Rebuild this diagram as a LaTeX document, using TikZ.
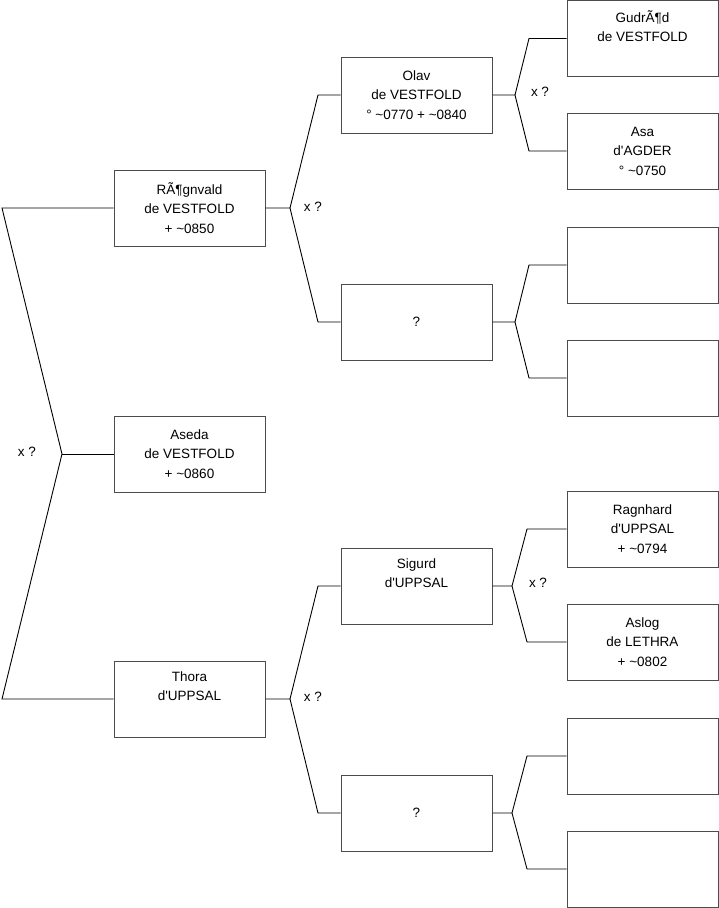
\documentclass[tikz,border=0pt]{standalone}
\usepackage{fontspec}
\newfontfamily\arialf{Liberation Sans}
\begin{document}
\begin{tikzpicture}[x=1pt,y=-1pt,
  box/.style={draw=black!70,line width=1pt,minimum width=151pt,minimum height=76pt,inner sep=0pt,align=center,font=\arialf\fontsize{13.5}{19.5}\selectfont,fill=white},
  lbl/.style={font=\arialf\fontsize{13.5}{16}\selectfont,inner sep=0pt},
  conn/.style={draw=black,line width=0.9pt}]
\useasboundingbox (0,0) rectangle (719,908);
% generation 1
\node[box] (rog) at (189.5,208) {RÃ¶gnvald\\de VESTFOLD\\+ \textasciitilde0850};
\node[box] (aseda) at (189.5,454) {Aseda\\de VESTFOLD\\+ \textasciitilde0860};
\node[box] (thora) at (189.5,699) {Thora\\d'UPPSAL\\\strut};
% generation 2
\node[box] (olav) at (416.5,95) {Olav\\de VESTFOLD\\° \textasciitilde0770 + \textasciitilde0840};
\node[box] (qa) at (416.5,322) {?};
\node[box] (sig) at (416.5,586) {Sigurd\\d'UPPSAL\\\strut};
\node[box] (qb) at (416.5,813) {?};
% generation 3
\node[box] (gud) at (642.5,38.5) {GudrÃ¶d\\de VESTFOLD\\\strut};
\node[box] (asa) at (642.5,151) {Asa\\d'AGDER\\° \textasciitilde0750};
\node[box] (ba) at (642.5,265) {};
\node[box] (bb) at (642.5,378) {};
\node[box] (rag) at (642.5,529) {Ragnhard\\d'UPPSAL\\+ \textasciitilde0794};
\node[box] (aslog) at (642.5,642) {Aslog\\de LETHRA\\+ \textasciitilde0802};
\node[box] (bc) at (642.5,756) {};
\node[box] (bd) at (642.5,869) {};
% root fork
\coordinate (r1) at (2,208);
\coordinate (rj) at (62,454);
\coordinate (r2) at (2,699);
\draw[conn] (rog.west) -- (r1) -- (rj) -- (r2) -- (thora.west);
\draw[conn] (rj) -- (aseda.west);
\node[lbl] (xr) at (27,452) {x ?};
% Rognvald fork
\coordinate (gj) at (290,208);
\coordinate (g1) at (318,95);
\coordinate (g2) at (318,322);
\draw[conn] (rog.east) -- (gj) -- (g1) -- (olav.west);
\draw[conn] (gj) -- (g2) -- (qa.west);
\node[lbl] (xg) at (313,207) {x ?};
% Olav fork
\coordinate (oj) at (515,95);
\coordinate (o1) at (529,38.5);
\coordinate (o2) at (529,151);
\draw[conn] (olav.east) -- (oj) -- (o1) -- (gud.west);
\draw[conn] (oj) -- (o2) -- (asa.west);
\node[lbl] (xo) at (540,92) {x ?};
% ? fork A
\coordinate (aj) at (515,322);
\coordinate (a1) at (529,265);
\coordinate (a2) at (529,378);
\draw[conn] (qa.east) -- (aj) -- (a1) -- (ba.west);
\draw[conn] (aj) -- (a2) -- (bb.west);
% Thora fork
\coordinate (tj) at (290,699);
\coordinate (t1) at (318,586);
\coordinate (t2) at (318,813);
\draw[conn] (thora.east) -- (tj) -- (t1) -- (sig.west);
\draw[conn] (tj) -- (t2) -- (qb.west);
\node[lbl] (xt) at (313,697) {x ?};
% Sigurd fork
\coordinate (sj) at (512,586);
\coordinate (s1) at (527,529);
\coordinate (s2) at (527,642);
\draw[conn] (sig.east) -- (sj) -- (s1) -- (rag.west);
\draw[conn] (sj) -- (s2) -- (aslog.west);
\node[lbl] (xs) at (538,583) {x ?};
% ? fork B
\coordinate (bj) at (512,813);
\coordinate (b1) at (527,756);
\coordinate (b2) at (527,869);
\draw[conn] (qb.east) -- (bj) -- (b1) -- (bc.west);
\draw[conn] (bj) -- (b2) -- (bd.west);
\end{tikzpicture}
\end{document}
